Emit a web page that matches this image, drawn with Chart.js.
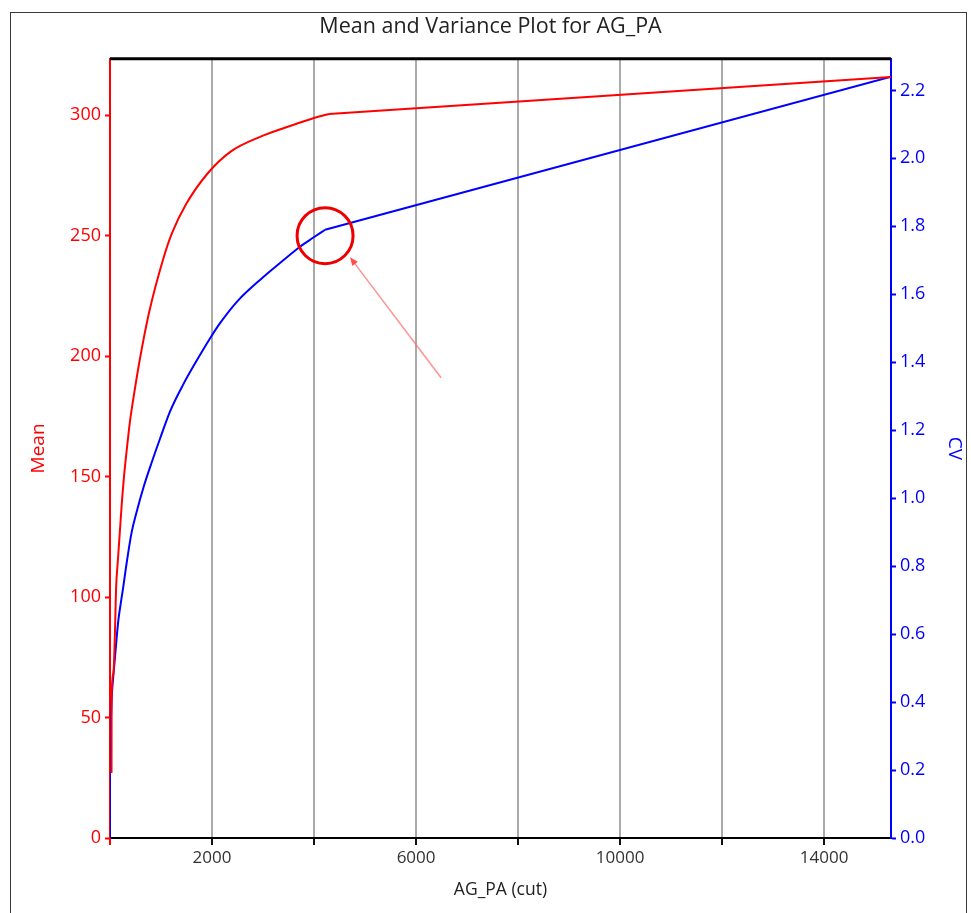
<!DOCTYPE html>
<html><head><meta charset="utf-8">
<script src="https://cdn.jsdelivr.net/npm/chart.js@4.4.1/dist/chart.umd.min.js"></script>
<style>
html,body{margin:0;padding:0;background:#fff;}
#wrap{position:relative;width:971px;height:913px;overflow:hidden;background:#fff;}
#frame{position:absolute;left:10px;top:12px;width:957px;height:905px;border:1px solid #3a3a3a;box-sizing:border-box;pointer-events:none;}
canvas{position:absolute;left:0;top:0;}
</style></head><body>
<div id="wrap"><div id="frame"></div><canvas id="c" width="971" height="913"></canvas></div>
<script>
const titleText = 'Mean and Variance Plot for AG_PA';
const xTitle = 'AG_PA (cut)';
const leftTitle = 'Mean';
const rightTitle = 'CV';

// Mean (left axis): curved part up to the knee, then the straight tail
const meanCurveX = [30, 32, 65, 98, 118, 157, 196, 235, 274, 333, 392, 470, 588, 765, 1039, 1215, 1490, 1921, 2372, 2940, 3529, 3999, 4293];
const meanCurveY = [27, 58, 68, 86, 103, 116, 128, 140, 150, 162, 173, 184, 199, 218, 240, 251, 263, 276, 285, 291, 295.5, 298.8, 300.5];
const meanTailX = [4293, 15310];
const meanTailY = [300.5, 315.8];

// CV (right axis): curved part up to the knee, then the straight tail
const cvCurveX = [0, 0, 40, 85, 131, 163, 210, 261, 327, 425, 523, 653, 817, 980, 1176, 1437, 1700, 1960, 2157, 2500, 3000, 3333, 3725, 3987, 4216];
const cvCurveY = [0, 0.31, 0.43, 0.51, 0.59, 0.64, 0.69, 0.74, 0.81, 0.90, 0.96, 1.03, 1.105, 1.175, 1.255, 1.335, 1.405, 1.47, 1.515, 1.58, 1.65, 1.692, 1.74, 1.767, 1.79];
const cvTailX = [4216, 15310];
const cvTailY = [1.79, 2.24];

// axis ranges & ticks
const xMin = 0, xMax = 15310;
const xTicks = [0, 2000, 4000, 6000, 8000, 10000, 12000, 14000];
const xLabelled = [2000, 6000, 10000, 14000];
const meanMin = 0, meanMax = 323.4;
const meanTicks = [0, 50, 100, 150, 200, 250, 300];
const cvMin = 0, cvMax = 2.293;
const cvTicks = [0, 0.2, 0.4, 0.6, 0.8, 1.0, 1.2, 1.4, 1.6, 1.8, 2.0, 2.2];

// annotation (data units): circle around the knee, arrow pointing at it
const circleAt = [4216, 250];
const arrowFrom = [6490, 191];
const arrowTo = [4706, 241];

const FONT = "'Open Sans', 'Noto Sans', sans-serif";
const RED = '#ff0000', BLUE = '#0000ff';

const overlay = {
  id: 'overlay',
  afterDatasetsDraw(chart) {
    const {ctx, chartArea: a, scales} = chart;
    const sx = scales.x, sy = scales.y;
    ctx.save();
    ctx.strokeStyle = '#000';
    ctx.lineWidth = 3;
    ctx.beginPath();
    ctx.moveTo(a.left, a.top); ctx.lineTo(a.right, a.top);
    ctx.stroke();
    const tx = sx.getPixelForValue(arrowFrom[0]), ty = sy.getPixelForValue(arrowFrom[1]);
    const hx = sx.getPixelForValue(arrowTo[0]), hy = sy.getPixelForValue(arrowTo[1]);
    const ang = Math.atan2(hy - ty, hx - tx);
    ctx.strokeStyle = 'rgba(255,110,110,0.75)';
    ctx.fillStyle = 'rgba(255,60,60,0.9)';
    ctx.lineWidth = 1.5;
    ctx.beginPath(); ctx.moveTo(tx, ty); ctx.lineTo(hx - 6 * Math.cos(ang), hy - 6 * Math.sin(ang)); ctx.stroke();
    ctx.beginPath();
    ctx.moveTo(hx, hy);
    ctx.lineTo(hx - 9 * Math.cos(ang - 0.4), hy - 9 * Math.sin(ang - 0.4));
    ctx.lineTo(hx - 9 * Math.cos(ang + 0.4), hy - 9 * Math.sin(ang + 0.4));
    ctx.closePath(); ctx.fill();
    const cx = sx.getPixelForValue(circleAt[0]), cy = sy.getPixelForValue(circleAt[1]);
    ctx.strokeStyle = '#ee0000';
    ctx.lineWidth = 3;
    ctx.beginPath(); ctx.arc(cx, cy, 28, 0, Math.PI * 2); ctx.stroke();
    ctx.restore();
  }
};

const pts = (xs, ys) => xs.map((x, i) => ({x, y: ys[i]}));
const setTicks = vals => s => { s.ticks = vals.map(v => ({value: v})); };

const lineStyle = (color, axis, smooth) => ({
  yAxisID: axis, borderColor: color, borderWidth: 2, pointRadius: 0, fill: false,
  tension: smooth ? 0.4 : 0, cubicInterpolationMode: smooth ? 'monotone' : 'default'
});

new Chart(document.getElementById('c'), {
  type: 'line',
  data: {
    datasets: [
      Object.assign({label: 'Mean', data: pts(meanCurveX, meanCurveY)}, lineStyle(RED, 'y', true)),
      Object.assign({label: 'Mean tail', data: pts(meanTailX, meanTailY)}, lineStyle(RED, 'y', false)),
      Object.assign({label: 'CV', data: pts(cvCurveX, cvCurveY)}, lineStyle(BLUE, 'y1', true)),
      Object.assign({label: 'CV tail', data: pts(cvTailX, cvTailY)}, lineStyle(BLUE, 'y1', false))
    ]
  },
  options: {
    responsive: false, animation: false, devicePixelRatio: 1,
    layout: {padding: {left: 10, right: 0, top: 0, bottom: 0}},
    plugins: {
      legend: {display: false}, tooltip: {enabled: false},
      title: {display: true, text: titleText, color: '#222', font: {family: FONT, size: 21.5, weight: 'normal'}, padding: {top: 14, bottom: 19}}
    },
    scales: {
      x: {
        type: 'linear', min: xMin, max: xMax, bounds: 'data',
        afterFit(s) { s.height = 75; },
        afterBuildTicks: setTicks(xTicks),
        ticks: {autoSkip: false, maxRotation: 0, minRotation: 0, padding: 3, color: '#333',
          font: {family: FONT, size: 17},
          callback: function (v) { const r = Math.round(Number(v)); return xLabelled.indexOf(r) >= 0 ? String(r) : ''; }},
        grid: {
          color: c => (c.tick && c.tick.value > 0) ? '#aaaaaa' : 'rgba(0,0,0,0)',
          lineWidth: 2, drawTicks: true, tickLength: 7,
          tickColor: c => (c.tick && c.tick.value === 0) ? RED : '#111', tickWidth: 2
        },
        border: {display: true, color: '#000', width: 2},
        title: {display: true, text: xTitle, color: '#222', font: {family: FONT, size: 17.5}, padding: {top: 0, bottom: 12}}
      },
      y: {
        position: 'left', min: meanMin, max: meanMax, bounds: 'data',
        afterFit(s) { s.width = 100; },
        afterBuildTicks: setTicks(meanTicks),
        ticks: {autoSkip: false, color: RED, padding: 4, font: {family: FONT, size: 18}},
        grid: {drawOnChartArea: false, drawTicks: true, tickLength: 5, tickColor: RED, tickWidth: 2},
        border: {display: true, color: RED, width: 2},
        title: {display: true, text: leftTitle, color: RED, font: {family: FONT, size: 19}, padding: {top: 17, bottom: 0}}
      },
      y1: {
        position: 'right', min: cvMin, max: cvMax, bounds: 'data',
        afterFit(s) { s.width = 80; },
        afterBuildTicks: setTicks(cvTicks),
        ticks: {autoSkip: false, color: BLUE, padding: 4, font: {family: FONT, size: 18},
          callback: v => Number(v).toFixed(1)},
        grid: {drawOnChartArea: false, drawTicks: true, tickLength: 5, tickColor: BLUE, tickWidth: 2},
        border: {display: true, color: BLUE, width: 2},
        title: {display: true, text: rightTitle, color: BLUE, font: {family: FONT, size: 19}, padding: {top: 5, bottom: 0}}
      }
    }
  },
  plugins: [overlay]
});
</script>
</body></html>
